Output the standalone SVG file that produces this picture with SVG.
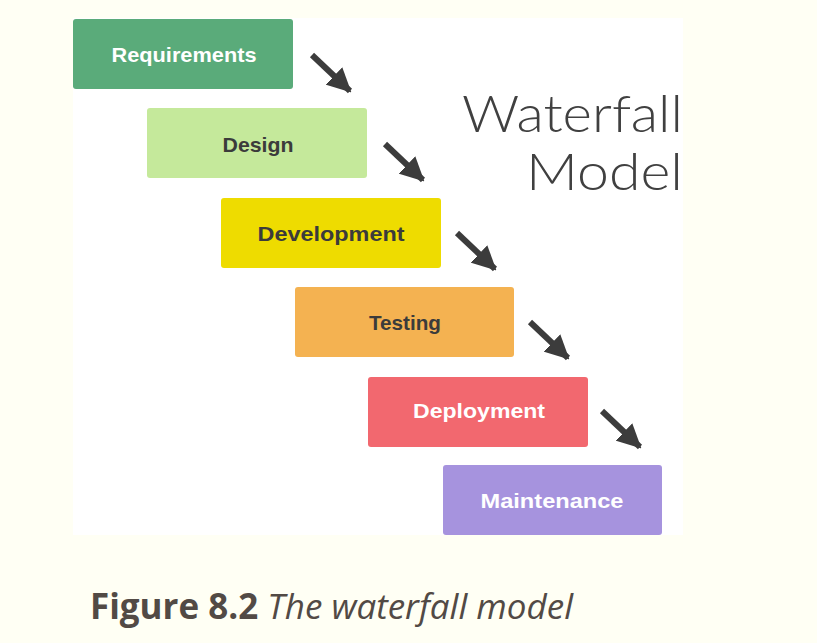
<svg xmlns="http://www.w3.org/2000/svg" width="817" height="643" viewBox="0 0 817 643">
<defs>
<style>
.box{stroke:none}
.lbl{font-family:"Liberation Sans",Arial,sans-serif;font-weight:bold;font-size:21px;text-anchor:middle}
.lt{fill:#ffffff}
.dk{fill:#3b3b3b}
.arr{stroke:#3c3c3c;stroke-width:6;fill:none;marker-end:url(#ah)}
.title{font-family:"Lato","Liberation Sans",sans-serif;font-weight:300;font-size:52px;fill:#404040;text-anchor:end}
</style>
<marker id="ah" markerUnits="userSpaceOnUse" markerWidth="24" markerHeight="24" viewBox="0 0 24 24" refX="22" refY="12" orient="auto">
<path d="M0,0 L24,12 L0,24 z" fill="#3c3c3c"/>
</marker>
</defs>
<rect width="817" height="643" fill="#fffff4"/>
<rect x="73" y="18" width="610" height="517" fill="#ffffff"/>
<g id="requirements"><rect class="box" x="73" y="19" width="220" height="70" rx="3" fill="#5aab7a"/><text class="lbl lt" x="184" y="62" textLength="145" lengthAdjust="spacingAndGlyphs">Requirements</text></g>
<g id="design"><rect class="box" x="147" y="108" width="220" height="70" rx="3" fill="#c5e99b"/><text class="lbl dk" x="258" y="152" textLength="71" lengthAdjust="spacingAndGlyphs">Design</text></g>
<g id="development"><rect class="box" x="221" y="198" width="220" height="70" rx="3" fill="#eedc00"/><text class="lbl dk" x="331" y="241" textLength="147" lengthAdjust="spacingAndGlyphs">Development</text></g>
<g id="testing"><rect class="box" x="295" y="287" width="219" height="70" rx="3" fill="#f4b251"/><text class="lbl dk" x="405" y="330" textLength="72" lengthAdjust="spacingAndGlyphs">Testing</text></g>
<g id="deployment"><rect class="box" x="368" y="377" width="220" height="70" rx="3" fill="#f2686f"/><text class="lbl lt" x="479" y="418" textLength="132" lengthAdjust="spacingAndGlyphs">Deployment</text></g>
<g id="maintenance"><rect class="box" x="443" y="465" width="219" height="70" rx="3" fill="#a693de"/><text class="lbl lt" x="552" y="508" textLength="143" lengthAdjust="spacingAndGlyphs">Maintenance</text></g>
<g id="connectors">
<line class="arr" x1="312" y1="55" x2="350" y2="91"/>
<line class="arr" x1="385" y1="144" x2="423" y2="180"/>
<line class="arr" x1="457" y1="233" x2="495" y2="269"/>
<line class="arr" x1="530" y1="322" x2="568" y2="358"/>
<line class="arr" x1="602" y1="411" x2="640" y2="447"/>
</g>
<g id="title"><text class="title" x="683" y="132" textLength="221" lengthAdjust="spacingAndGlyphs">Waterfall</text><text class="title" x="683" y="190" textLength="157" lengthAdjust="spacingAndGlyphs">Model</text></g>
<text x="90" y="619" font-family="'Open Sans','Liberation Sans',sans-serif" font-size="35" fill="#524a45" textLength="483" lengthAdjust="spacingAndGlyphs"><tspan font-weight="bold">Figure 8.2</tspan> <tspan font-style="italic">The waterfall model</tspan></text>
</svg>
